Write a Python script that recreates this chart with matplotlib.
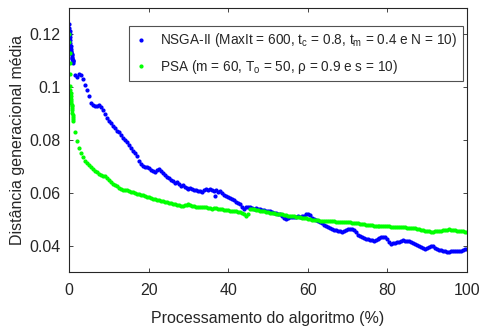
import numpy as np
import matplotlib
matplotlib.use("Agg")
import matplotlib.pyplot as plt

plt.rcParams['font.family'] = ['Liberation Sans', 'DejaVu Sans']
plt.rcParams['mathtext.fontset'] = 'custom'
plt.rcParams['mathtext.rm'] = 'Liberation Sans'

# eixo x: processamento (%) - trecho inicial mais fino
x_inicio = [0.0, 0.05, 0.1, 0.15, 0.2, 0.25, 0.3, 0.35, 0.4, 0.45,
            0.5, 0.55, 0.6, 0.65, 0.7, 0.75, 0.8, 0.85, 0.9, 0.95]

# NSGA-II
nsga_inicio = [0.1238, 0.1225, 0.1212, 0.1200, 0.1190, 0.1180, 0.1168, 0.1155, 0.1145, 0.1138,
               0.1132, 0.1128, 0.1124, 0.1120, 0.1115, 0.1110, 0.1107, 0.1104, 0.1101, 0.1099]
nsga_resto = [
    0.1090, 0.1045, 0.1040, 0.1050, 0.1048, 0.1030, 0.1010, 0.0990, 0.0965, 0.0940,
    0.0932, 0.0928, 0.0930, 0.0933, 0.0925, 0.0912, 0.0900, 0.0885, 0.0872, 0.0865,
    0.0852, 0.0845, 0.0836, 0.0830, 0.0820, 0.0808, 0.0800, 0.0792, 0.0780, 0.0770,
    0.0758, 0.0750, 0.0740, 0.0722, 0.0708, 0.0702, 0.0698, 0.0696, 0.0694, 0.0688,
    0.0683, 0.0680, 0.0686, 0.0690, 0.0684, 0.0675, 0.0668, 0.0660, 0.0655, 0.0650,
    0.0645, 0.0638, 0.0640, 0.0632, 0.0626, 0.0628, 0.0622, 0.0618, 0.0615, 0.0620,
    0.0615, 0.0610, 0.0612, 0.0606, 0.0608, 0.0603, 0.0610, 0.0614, 0.0612, 0.0615,
    0.0612, 0.0608, 0.0610, 0.0605, 0.0606, 0.0600, 0.0592, 0.0588, 0.0585, 0.0580,
    0.0577, 0.0572, 0.0566, 0.0560, 0.0556, 0.0548, 0.0540, 0.0545, 0.0548, 0.0545,
    0.0544, 0.0540, 0.0542, 0.0538, 0.0540, 0.0536, 0.0535, 0.0533, 0.0532, 0.0530,
    0.0528, 0.0525, 0.0522, 0.0521, 0.0518, 0.0512, 0.0506, 0.0502, 0.0505, 0.0508,
    0.0510, 0.0508, 0.0510, 0.0512, 0.0509, 0.0511, 0.0514, 0.0518, 0.0520, 0.0515,
    0.0505, 0.0500, 0.0496, 0.0492, 0.0490, 0.0486, 0.0480, 0.0475, 0.0470, 0.0465,
    0.0462, 0.0460, 0.0458, 0.0456, 0.0454, 0.0453, 0.0455, 0.0458, 0.0462, 0.0464,
    0.0464, 0.0458, 0.0450, 0.0442, 0.0436, 0.0432, 0.0430, 0.0427, 0.0424, 0.0421,
    0.0420, 0.0419, 0.0422, 0.0425, 0.0428, 0.0432, 0.0434, 0.0432, 0.0425, 0.0415,
    0.0408, 0.0410, 0.0409, 0.0412, 0.0415, 0.0418, 0.0420, 0.0419, 0.0418, 0.0416,
    0.0414, 0.0410, 0.0406, 0.0402, 0.0398, 0.0394, 0.0390, 0.0389, 0.0392, 0.0396,
    0.0400, 0.0398, 0.0392, 0.0388, 0.0384, 0.0382, 0.0381, 0.0379, 0.0377, 0.0377,
    0.0378, 0.0380, 0.0378, 0.0379, 0.0381, 0.0380, 0.0382, 0.0386, 0.0389]
nsga_extra_x = [36.7]
nsga_extra_y = [0.0589]

# PSA
psa_inicio = [0.1200, 0.1170, 0.1130, 0.1090, 0.1050, 0.1005, 0.0990, 0.0978, 0.0966, 0.0955,
              0.0947, 0.0940, 0.0934, 0.0928, 0.0920, 0.0912, 0.0903, 0.0895, 0.0887, 0.0880]
psa_resto = [
    0.0872, 0.0830, 0.0795, 0.0770, 0.0752, 0.0735, 0.0720, 0.0712, 0.0705, 0.0698,
    0.0690, 0.0684, 0.0679, 0.0672, 0.0666, 0.0662, 0.0663, 0.0655, 0.0648, 0.0640,
    0.0634, 0.0630, 0.0625, 0.0620, 0.0616, 0.0612, 0.0610, 0.0609, 0.0607, 0.0605,
    0.0603, 0.0600, 0.0597, 0.0594, 0.0592, 0.0590, 0.0588, 0.0586, 0.0583, 0.0580,
    0.0578, 0.0576, 0.0574, 0.0572, 0.0570, 0.0568, 0.0566, 0.0564, 0.0562, 0.0560,
    0.0558, 0.0557, 0.0555, 0.0554, 0.0552, 0.0551, 0.0553, 0.0555, 0.0556, 0.0554,
    0.0552, 0.0549, 0.0547, 0.0546, 0.0545, 0.0546, 0.0547, 0.0545, 0.0543, 0.0541,
    0.0540, 0.0541, 0.0542, 0.0540, 0.0538, 0.0537, 0.0536, 0.0535, 0.0534, 0.0533,
    0.0532, 0.0531, 0.0530, 0.0528, 0.0527, 0.0524, 0.0518, 0.0514, 0.0520, 0.0538,
    0.0539, 0.0537, 0.0535, 0.0534, 0.0533, 0.0531, 0.0530, 0.0528, 0.0527, 0.0525,
    0.0524, 0.0522, 0.0521, 0.0520, 0.0519, 0.0518, 0.0516, 0.0515, 0.0514, 0.0513,
    0.0512, 0.0511, 0.0509, 0.0508, 0.0507, 0.0506, 0.0504, 0.0503, 0.0502, 0.0500,
    0.0499, 0.0498, 0.0497, 0.0496, 0.0495, 0.0495, 0.0494, 0.0494, 0.0493, 0.0493,
    0.0492, 0.0492, 0.0491, 0.0491, 0.0491, 0.0490, 0.0490, 0.0489, 0.0489, 0.0488,
    0.0487, 0.0486, 0.0485, 0.0484, 0.0483, 0.0482, 0.0481, 0.0480, 0.0479, 0.0478,
    0.0477, 0.0476, 0.0476, 0.0475, 0.0475, 0.0474, 0.0474, 0.0473, 0.0473, 0.0473,
    0.0472, 0.0472, 0.0472, 0.0472, 0.0471, 0.0471, 0.0470, 0.0469, 0.0468, 0.0467,
    0.0466, 0.0465, 0.0465, 0.0464, 0.0463, 0.0461, 0.0459, 0.0457, 0.0455, 0.0454,
    0.0453, 0.0453, 0.0454, 0.0455, 0.0456, 0.0457, 0.0458, 0.0459, 0.0460, 0.0462,
    0.0461, 0.0459, 0.0458, 0.0457, 0.0456, 0.0455, 0.0454, 0.0453, 0.0452]

x_ticks = [0, 20, 40, 60, 80, 100]
y_ticks = [0.04, 0.06, 0.08, 0.1, 0.12]
y_ticklabels = ['0.04', '0.06', '0.08', '0.1', '0.12']

lbl_nsga = r'NSGA-II (MaxIt = 600, t$_{\mathrm{c}}$ = 0.8, t$_{\mathrm{m}}$ = 0.4 e N = 10)'
lbl_psa = r'PSA (m = 60, T$_{\mathrm{o}}$ = 50, ρ = 0.9 e s = 10)'

x_nsga = np.concatenate([x_inicio, np.linspace(1, 100, len(nsga_resto)), nsga_extra_x])
y_nsga = np.concatenate([nsga_inicio, nsga_resto, nsga_extra_y])
x_psa = np.concatenate([x_inicio, np.linspace(1, 100, len(psa_resto))])
y_psa = np.concatenate([psa_inicio, psa_resto])

cinza = '#262626'
fig = plt.figure(figsize=(4.8, 3.31), dpi=100)
ax = fig.add_axes([0.144, 0.178, 0.829, 0.798])

ax.plot(x_nsga, y_nsga, '.', color=(0, 0, 1), markersize=4, label=lbl_nsga)
ax.plot(x_psa, y_psa, '.', color=(0, 1, 0), markersize=4, label=lbl_psa)

ax.set_xlim(0, 100)
ax.set_ylim(0.03, 0.13)
ax.set_xticks(x_ticks)
ax.set_yticks(y_ticks)
ax.set_yticklabels(y_ticklabels)
ax.tick_params(direction='in', top=True, right=True, length=3, width=0.6,
               colors=cinza, labelsize=11.5)
ax.tick_params(axis='x', pad=8)
ax.tick_params(axis='y', pad=6)
for s in ax.spines.values():
    s.set_color(cinza)
    s.set_linewidth(0.8)

ax.set_xlabel('Processamento do algoritmo (%)', fontsize=11.5, color=cinza, labelpad=9)
ax.set_ylabel('Distância generacional média', fontsize=11.5, color=cinza, labelpad=3)

leg = ax.legend(loc='upper right', bbox_to_anchor=(0.99, 0.932), borderaxespad=0,
                fontsize=9.8, frameon=True, fancybox=False, edgecolor=cinza,
                handlelength=1.0, handletextpad=0.9, borderpad=0.4, labelspacing=0.6)
leg.get_frame().set_linewidth(0.8)
for t in leg.get_texts():
    t.set_color(cinza)

fig.savefig('out.png', dpi=100)
